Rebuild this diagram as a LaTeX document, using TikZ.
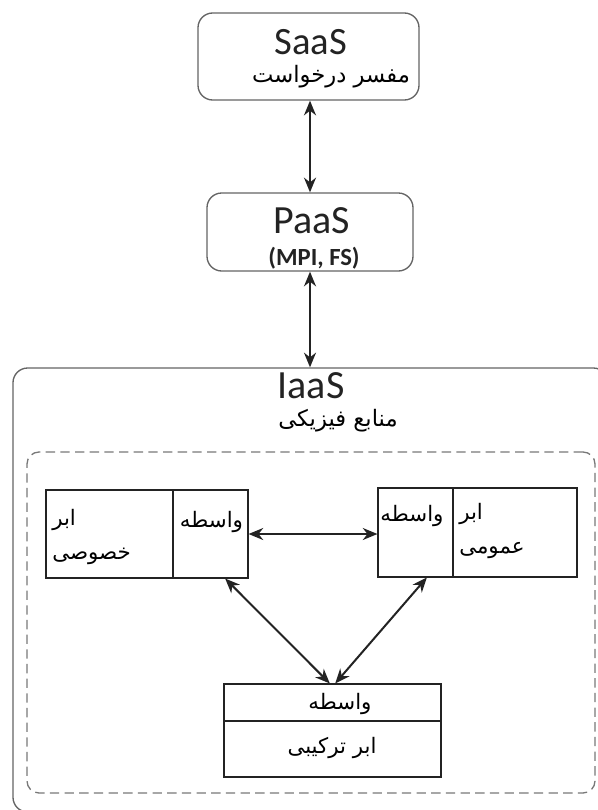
\documentclass[tikz,border=0pt]{standalone}
\usepackage{fontspec}
\setmainfont{Carlito}
\newfontfamily\arabicfont[Script=Arabic]{DejaVu Sans}
\TeXXeTstate=1
\usetikzlibrary{arrows.meta}
\definecolor{frame}{RGB}{100,100,100}
\definecolor{dash}{RGB}{120,120,120}
\definecolor{ink}{RGB}{35,35,35}
\newcommand{\artxt}[1]{{\arabicfont\beginR #1\endR}}
\tikzset{
  tier/.style={draw=frame,line width=1pt,rounded corners=11pt,inner sep=0pt},
  cell/.style={draw=ink,line width=0.8pt,inner sep=0pt},
  latin/.style={text=ink,inner sep=0pt},
  arab/.style={font=\arabicfont\fontsize{16}{25}\selectfont,inner sep=0pt},
  dbl/.style={{Stealth[length=11pt,width=9pt,inset=3.5pt]}-{Stealth[length=11pt,width=9pt,inset=3.5pt]},line width=1.5pt,ink}
}

\begin{document}
\begin{tikzpicture}[x=0.75pt,y=-0.75pt]
        \useasboundingbox (0,0) rectangle (598,810);
        % tiers
        \node[tier,minimum width=165.75pt,minimum height=65.25pt] (saas) at (308.5,56.5) {};
        \node[tier,minimum width=154.5pt,minimum height=58.5pt] (paas) at (310,232) {};
        \node[tier,minimum width=446.25pt,minimum height=333pt] (iaas) at (310.5,590) {};
        \node[draw=dash,line width=1pt,dashed,dash pattern=on 7pt off 4pt,rounded corners=9pt,
              minimum width=426pt,minimum height=255.75pt,inner sep=0pt] (pool) at (311,622.5) {};
        \node[latin,font=\fontsize{29}{30}\selectfont] (saast) at (311,42) {SaaS};
        \node[arab,font=\arabicfont\fontsize{17}{20}\selectfont] (saasa) at (331,77) {\artxt{مفسر درخواست}};
        \node[latin,font=\fontsize{30}{32}\selectfont] (paast) at (312,221) {PaaS};
        \node[latin,font=\bfseries\fontsize{18.5}{20}\selectfont] (paasb) at (314,258) {(MPI, FS)};
        \node[latin,font=\fontsize{30}{32}\selectfont] (iaast) at (311,386) {IaaS};
        \node[arab,font=\arabicfont\fontsize{17}{20}\selectfont] (iaasa) at (338,421) {\artxt{منابع فیزیکی}};
        % clouds
        \node[cell,minimum width=95.25pt,minimum height=66pt] (priv) at (109.5,534) {};
        \node[cell,minimum width=56.25pt,minimum height=66pt] (lbrk) at (210.5,534) {};
        \node[cell,minimum width=56.25pt,minimum height=66.75pt] (rbrk) at (415.5,532.5) {};
        \node[cell,minimum width=93pt,minimum height=66.75pt] (pub) at (515,532.5) {};
        \node[cell,minimum width=162.75pt,minimum height=27.75pt] (hbrk) at (332.5,702.5) {};
        \node[cell,minimum width=162.75pt,minimum height=42pt] (hyb) at (332.5,749) {};
        \node[arab,anchor=west,align=left] (privt) at (52,537) {\artxt{ابر}\\\artxt{خصوصی}};
        \node[arab] (lbrkt) at (211.5,522) {\artxt{واسطه}};
        \node[arab] (rbrkt) at (412,516) {\artxt{واسطه}};
        \node[arab,anchor=west,align=left] (pubt) at (459,531) {\artxt{ابر}\\\artxt{عمومی}};
        \node[arab] (hbrkt) at (340,704) {\artxt{واسطه}};
        \node[arab] (hybt) at (332,748) {\artxt{ابر ترکیبی}};
        % links
        \draw[dbl] (paas.north |- saas.south) -- (paas.north);
        \draw[dbl] (paas.south) -- (paas.south |- iaas.north);
        \draw[dbl] (lbrk.east) -- (lbrk.east -| rbrk.west);
        \draw[dbl] ([xshift=11pt]lbrk.south) -- ([xshift=-2pt]hbrk.north);
        \draw[dbl] ([xshift=8.5pt]rbrk.south) -- ([xshift=2pt]hbrk.north);
      \end{tikzpicture}
\end{document}
